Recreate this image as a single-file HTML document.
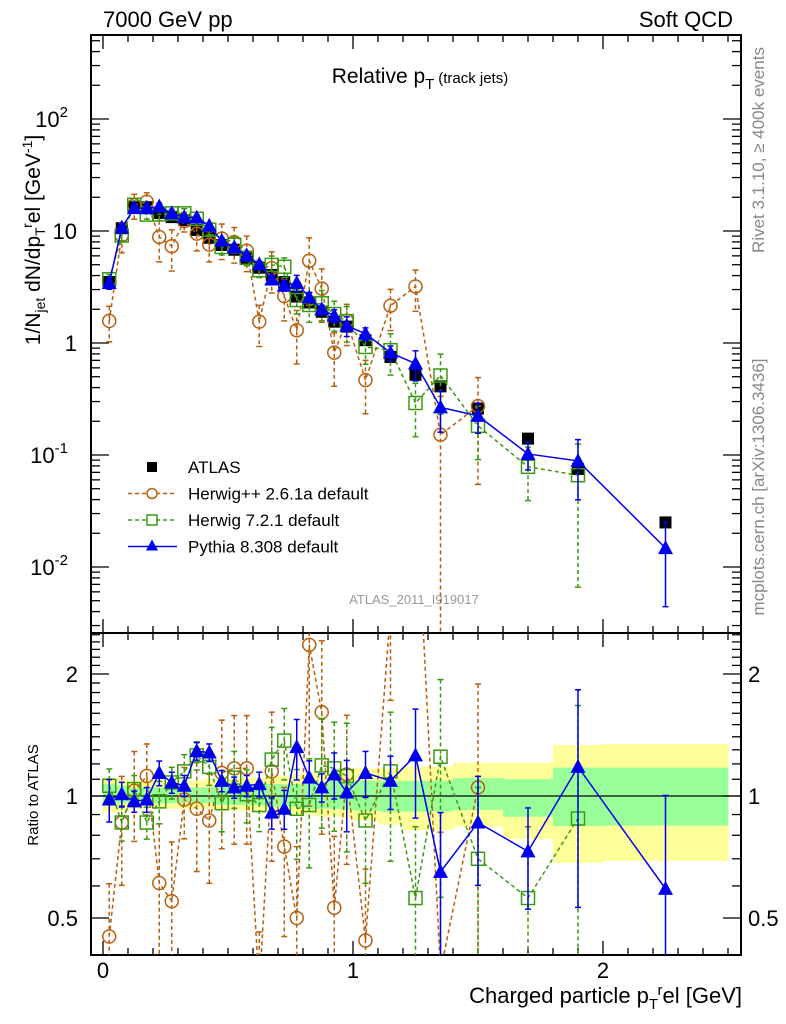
<!DOCTYPE html>
<html><head><meta charset="utf-8"><style>
html,body{margin:0;padding:0;background:#fff;width:786px;height:1024px;overflow:hidden;}
svg{display:block;font-family:"Liberation Sans",sans-serif;}
</style></head><body>
<svg id="chart" width="786" height="1024" viewBox="0 0 786 1024" xmlns="http://www.w3.org/2000/svg">
<text x="103" y="27" font-size="22">7000 GeV pp</text>
<text x="733" y="27" font-size="22" text-anchor="end">Soft QCD</text>
<text x="420" y="83" font-size="21" text-anchor="middle">Relative p<tspan font-size="15" dy="6">T</tspan><tspan font-size="15" dy="-6"> (track jets)</tspan></text>
<text x="414" y="604" font-size="13" fill="#999" text-anchor="middle">ATLAS_2011_I919017</text>
<text transform="translate(764,150) rotate(-90)" font-size="17" fill="#888" text-anchor="middle">Rivet 3.1.10, ≥ 400k events</text>
<text transform="translate(764,487) rotate(-90)" font-size="17" fill="#888" text-anchor="middle">mcplots.cern.ch [arXiv:1306.3436]</text>
<text transform="translate(40,240) rotate(-90)" font-size="21" text-anchor="middle">1/N<tspan font-size="14" dy="5">jet</tspan><tspan dy="-5"> dN/dp</tspan><tspan font-size="14" dy="5">T</tspan><tspan font-size="14" dy="-13">r</tspan><tspan dy="8">el [GeV</tspan><tspan font-size="14" dy="-8">-1</tspan><tspan dy="8">]</tspan></text>
<text transform="translate(38,795) rotate(-90)" font-size="15" text-anchor="middle">Ratio to ATLAS</text>
<text x="742" y="1003" font-size="22" text-anchor="end">Charged particle p<tspan font-size="15" dy="6">T</tspan><tspan font-size="15" dy="-14">r</tspan><tspan dy="8">el [GeV]</tspan></text>
<g id="bands"></g><g id="axes"></g><g id="series"></g><g id="legend"></g>
</svg>
<script>
const xs=[0.025,0.075,0.125,0.175,0.225,0.275,0.325,0.375,0.425,0.475,0.525,0.575,0.625,0.675,0.725,0.775,0.825,0.875,0.925,0.975,1.05,1.15,1.25,1.35,1.5,1.7,1.9,2.25];
const binLo=[0,0.05,0.1,0.15,0.2,0.25,0.3,0.35,0.4,0.45,0.5,0.55,0.6,0.65,0.7,0.75,0.8,0.85,0.9,0.95,1.0,1.1,1.2,1.3,1.4,1.6,1.8,2.0];
const binHi=[0.05,0.1,0.15,0.2,0.25,0.3,0.35,0.4,0.45,0.5,0.55,0.6,0.65,0.7,0.75,0.8,0.85,0.9,0.95,1.0,1.1,1.2,1.3,1.4,1.6,1.8,2.0,2.5];
const atlas=[3.5,10.6,16.5,16.3,14.5,13.3,12.5,10.2,8.7,7.5,6.8,5.7,4.7,4.05,3.5,2.6,2.3,1.9,1.55,1.4,1.06,0.75,0.52,0.41,0.26,0.14,0.075,0.025];
const yelUp=[1.11,1.10,1.09,1.09,1.09,1.09,1.09,1.09,1.10,1.10,1.10,1.11,1.11,1.12,1.12,1.13,1.14,1.14,1.15,1.16,1.17,1.17,1.18,1.18,1.208,1.208,1.336,1.344];
const yelDn=[0.91,0.92,0.93,0.93,0.93,0.93,0.93,0.93,0.93,0.92,0.92,0.92,0.91,0.91,0.90,0.90,0.90,0.89,0.89,0.88,0.87,0.85,0.824,0.824,0.84,0.783,0.684,0.692];
const grnUp=[1.07,1.06,1.05,1.05,1.05,1.05,1.05,1.05,1.05,1.06,1.06,1.06,1.06,1.07,1.07,1.07,1.08,1.08,1.09,1.09,1.09,1.09,1.09,1.09,1.107,1.10,1.175,1.175];
const grnDn=[0.95,0.96,0.96,0.96,0.96,0.96,0.96,0.96,0.96,0.95,0.95,0.95,0.95,0.94,0.94,0.94,0.93,0.93,0.93,0.925,0.92,0.915,0.915,0.915,0.924,0.889,0.843,0.845];
const pyR=[0.98,1.01,0.97,0.98,1.14,1.08,1.06,1.29,1.28,1.09,1.05,1.06,1.07,0.91,0.93,1.32,1.11,1.05,1.13,1.02,1.14,1.09,1.26,0.65,0.86,0.73,1.18,0.59];
const pyE=[0.12,0.07,0.06,0.07,0.07,0.06,0.06,0.05,0.05,0.06,0.06,0.06,0.07,0.09,0.11,0.17,0.1,0.08,0.13,0.2,0.13,0.15,0.3,0.4,0.3,0.28,0.55,0.7];
const h7R=[1.06,0.86,1.04,0.86,0.97,1.08,1.15,1.26,1.18,0.96,1.11,1.01,0.95,1.23,1.37,0.93,0.95,1.19,1.17,1.12,0.87,1.15,0.56,1.25,0.70,0.56,0.88,null];
const h7E=[0.1,0.1,0.08,0.09,0.12,0.09,0.1,0.08,0.1,0.15,0.16,0.15,0.14,0.2,0.2,0.25,0.3,0.3,0.3,0.35,0.3,0.4,0.5,0.55,0.5,0.5,0.9,0];
const hpR=[0.45,0.86,1.03,1.12,0.61,0.55,0.98,0.93,0.87,1.14,1.17,1.17,0.33,1.15,0.75,0.5,2.36,1.61,0.53,1.13,0.44,2.87,6.15,0.37,1.05,null,null,null];
const hpE=[0.35,0.3,0.25,0.2,0.4,0.4,0.2,0.3,0.3,0.35,0.35,0.35,0.4,0.4,0.4,0.5,0.6,0.5,0.5,0.4,0.5,0.4,0.4,1.2,0.8,0,0,0];
const NS="http://www.w3.org/2000/svg";
const L=91,R=741,T=35,MB=633,RB=955;
function X(v){return 103+250*v;}
function YM(v){return 343-112*Math.log10(v);}
function YR(r){return 796-122*Math.log2(r);}
function mk(tag,attrs,parent){const e=document.createElementNS(NS,tag);for(const k in attrs)e.setAttribute(k,attrs[k]);parent.appendChild(e);return e;}
const bands=document.getElementById('bands'),axes=document.getElementById('axes'),ser=document.getElementById('series'),leg=document.getElementById('legend');
const defs=mk('defs',{},document.getElementById('chart'));
const c1=mk('clipPath',{id:'cm'},defs);mk('rect',{x:L,y:T,width:R-L,height:MB-T},c1);
const c2=mk('clipPath',{id:'cr'},defs);mk('rect',{x:L,y:MB,width:R-L,height:RB-MB},c2);
for(let i=0;i<binLo.length;i++){
 const y=mk('rect',{x:X(binLo[i]),y:YR(yelUp[i]),width:X(binHi[i])-X(binLo[i])+0.5,height:YR(yelDn[i])-YR(yelUp[i]),fill:'#ffff99'},bands);
 
 
 const g=mk('rect',{x:X(binLo[i]),y:YR(grnUp[i]),width:X(binHi[i])-X(binLo[i])+0.5,height:YR(grnDn[i])-YR(grnUp[i]),fill:'#99ff99'},bands);
 
 
}
const one=mk('line',{x1:L,x2:R,y1:YR(1),y2:YR(1),stroke:'#000','stroke-width':1.2},bands);


for(const [y1,y2,n] of [[T,MB,'main-plot-frame'],[MB,RB,'ratio-plot-frame']]){
 const f=mk('rect',{x:L,y:y1,width:R-L,height:y2-y1,fill:'none',stroke:'#000','stroke-width':2},axes);
 
 
}
for(let k=0;k<=25;k++){const v=k/10,x=X(v),big=(k%10==0);const h=big?14:7;
 for(const [y0,dir] of [[T,1],[MB,-1],[MB,1],[RB,-1]]) mk('line',{x1:x,x2:x,y1:y0,y2:y0+dir*h,stroke:'#000','stroke-width':1.3},axes);
 if(big){const t=mk('text',{x:x,y:978,'font-size':22,'text-anchor':'middle'},axes);t.textContent=String(k/10);
  
  }
}
for(let d=-3;d<=2;d++){for(let m=1;m<=9;m++){const v=m*Math.pow(10,d);const y=YM(v);if(y<T||y>MB)continue;const h=m==1?18:9;
 mk('line',{x1:L,x2:L+h,y1:y,y2:y,stroke:'#000','stroke-width':1.3},axes);
 mk('line',{x1:R,x2:R-h,y1:y,y2:y,stroke:'#000','stroke-width':1.3},axes);}
}
const mlabels=[[0.01,'10','-2'],[0.1,'10','-1'],[1,'1',''],[10,'10',''],[100,'10','2']];
mlabels.forEach(([v,b,e])=>{const t=mk('text',{x:e?68:77,y:YM(v)+8,'font-size':22,'text-anchor':'end'},axes);t.textContent=b;
 
 
 if(e){const s=mk('tspan',{'font-size':15,dy:-10},t);s.textContent=e;}});
const rt=[0.5,0.6,0.7,0.8,0.9,1,1.1,1.2,1.3,1.4,1.5,1.6,1.7,1.8,1.9,2,2.1,2.2,2.3,2.4,2.5];
rt.forEach(r=>{const y=YR(r);if(y<MB||y>RB)return;const big=(r==0.5||r==1||r==2);const h=big?18:9;
 mk('line',{x1:L,x2:L+h,y1:y,y2:y,stroke:'#000','stroke-width':1.3},axes);
 mk('line',{x1:R,x2:R-h,y1:y,y2:y,stroke:'#000','stroke-width':1.3},axes);
 if(big){for(const [x,a] of [[78,'end'],[748,'start']]){const t=mk('text',{x:x,y:y+8,'font-size':22,'text-anchor':a},axes);t.textContent=String(r);
  
  }}
});
function marker(g,type,x,y,col){
 if(type=='sq') return mk('rect',{x:x-6,y:y-6,width:12,height:12,fill:'#000'},g);
 if(type=='circ') return mk('circle',{cx:x,cy:y,r:6.5,fill:'none',stroke:col,'stroke-width':1.5},g);
 if(type=='osq') return mk('rect',{x:x-6.5,y:y-6.5,width:13,height:13,fill:'none',stroke:col,'stroke-width':1.5},g);
 if(type=='tri') return mk('path',{d:`M${x},${y-8}L${x+7.5},${y+6}L${x-7.5},${y+6}Z`,fill:col},g);
}
function drawSeries(name,vals,errs,type,col,dash,isRatio,panel){
 const g=mk('g',{'clip-path':panel=='m'?'url(#cm)':'url(#cr)'},ser);
 
 
 const Y=panel=='m'?YM:YR;const pts=[];const bot=panel=='m'?MB:RB;
 for(let i=0;i<xs.length;i++){if(vals[i]==null)continue;
  const v=panel=='m'?(isRatio?vals[i]*atlas[i]:vals[i]):vals[i];
  const e=errs?errs[i]:0;const x=X(xs[i]),y=Y(v);pts.push([x,y]);
  if(e>0){const lo=v*(1-e),hi=v*(1+e);const ylo=lo>0?Math.min(Y(lo),bot+5):bot+5,yhi=Y(hi);
   mk('line',{x1:x,x2:x,y1:yhi,y2:ylo,stroke:col,'stroke-width':1.5,'stroke-dasharray':dash||'none'},g);
   mk('line',{x1:x-3,x2:x+3,y1:yhi,y2:yhi,stroke:col,'stroke-width':1.5},g);
   if(lo>0)mk('line',{x1:x-3,x2:x+3,y1:ylo,y2:ylo,stroke:col,'stroke-width':1.5},g);}
 }
 if(type!='sq')mk('polyline',{points:pts.map(p=>p.join(',')).join(' '),fill:'none',stroke:col,'stroke-width':1.5,'stroke-dasharray':dash||'none'},g);
 pts.forEach(p=>{const m=marker(g,type,p[0],p[1],col);
  
  });
}
drawSeries('atlas-data',atlas,null,'sq','#000',null,false,'m');
drawSeries('herwigpp-series',hpR,hpE,'circ','#b8600f','4,3',true,'m');
drawSeries('herwig7-series',h7R,h7E,'osq','#3a9a10','4,3',true,'m');
drawSeries('pythia-series',pyR,pyE,'tri','#0000ee',null,true,'m');
drawSeries('herwigpp-ratio',hpR,hpE,'circ','#b8600f','4,3',false,'r');
drawSeries('herwig7-ratio',h7R,h7E,'osq','#3a9a10','4,3',false,'r');
drawSeries('pythia-ratio',pyR,pyE,'tri','#0000ee',null,false,'r');
const entries=[['ATLAS','sq','#000',null,'legend-atlas'],['Herwig++ 2.6.1a default','circ','#b8600f','4,3','legend-herwigpp'],['Herwig 7.2.1 default','osq','#3a9a10','4,3','legend-herwig7'],['Pythia 8.308 default','tri','#0000ee',null,'legend-pythia']];
entries.forEach((en,i)=>{const y=467+26.5*i;const g=mk('g',{},leg);
 
 
 if(en[1]!='sq')mk('line',{x1:128,x2:177,y1:y,y2:y,stroke:en[2],'stroke-width':1.5,'stroke-dasharray':en[3]||'none'},g);
 if(en[1]=='sq')mk('rect',{x:147,y:y-5,width:10,height:10,fill:'#000'},g);
 else if(en[1]=='circ')mk('circle',{cx:152,cy:y,r:5,fill:'#fff',stroke:en[2],'stroke-width':1.5},g);
 else if(en[1]=='osq')mk('rect',{x:147,y:y-5,width:10,height:10,fill:'#fff',stroke:en[2],'stroke-width':1.5},g);
 else mk('path',{d:`M152,${y-7}L158,${y+4}L146,${y+4}Z`,fill:en[2]},g);
 const t=mk('text',{x:188,y:y+6,'font-size':17},g);t.textContent=en[0];});
</script>
</body></html>
